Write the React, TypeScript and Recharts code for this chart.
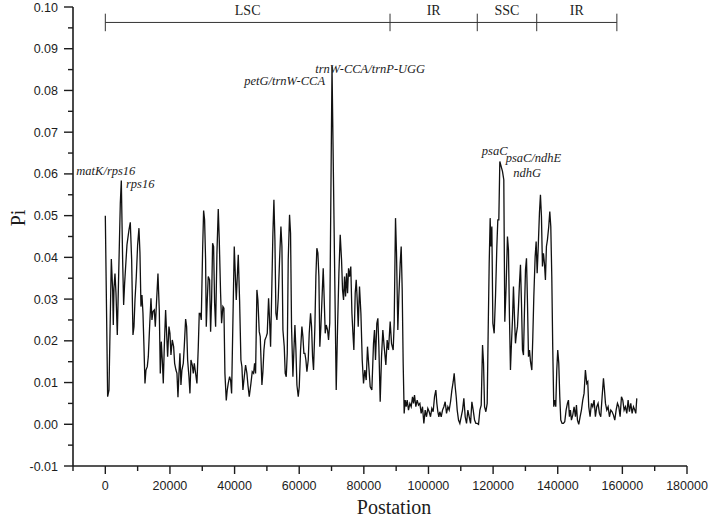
import React from 'react';
import { LineChart, Line, XAxis, YAxis, ReferenceLine, ReferenceDot, Label } from 'recharts';

// sliding-window positions (bp) and nucleotide diversity, split by genome region
const lscPos = [
  0, 720, 1130, 1860, 2270, 2470, 2680, 2990, 3300, 3710, 4120, 4640, 4950, 5360, 5670, 5980, 6290, 6700,
  7320, 7730, 8150, 8560, 8870, 9180, 9590, 10000, 10410, 10720, 11030, 11340, 11650, 11960, 12270, 12580,
  12990, 13300, 13710, 14130, 14430, 14740, 15160, 15470, 15880, 16290, 16700, 17010, 17320, 17630, 17940,
  18250, 18660, 18970, 19280, 19690, 20000, 20310, 20720, 21140, 21450, 21860, 22170, 22480, 22790, 23090,
  23400, 23710, 24130, 24430, 24850, 25160, 25470, 25880, 26190, 26500, 26910, 27220, 27530, 27940, 28350,
  28770, 29070, 29380, 29690, 30110, 30420, 30720, 31030, 31240, 31550, 31860, 32270, 32580, 32890, 33200,
  33510, 33820, 34130, 34540, 34950, 35260, 35670, 35980, 36390, 36700, 37010, 37430, 37730, 38040, 38460,
  38770, 39080, 39900, 40520, 41140, 41550, 41960, 42270, 42580, 43000, 43400, 43820, 44130, 44540, 45060,
  45470, 45880, 46190, 46500, 46910, 47220, 47630, 47940, 48460, 48770, 49080, 49390, 49800, 50110, 50520,
  50830, 51140, 51550, 51860, 52170, 52480, 52790, 53100, 53510, 53920, 54340, 54650, 54960, 55370, 55670,
  55990, 56300, 56600, 57010, 57320, 57630, 58050, 58360, 58670, 58980, 59290, 59700, 60010, 60420, 60830,
  61140, 61450, 61760, 62070, 62380, 62790, 63100, 63510, 63820, 64130, 64430, 64850, 65160, 65460, 65780,
  66090, 66380, 66710, 67120, 67430, 67740, 68050, 68360, 68770, 69080, 69450, 70150, 71450, 71870, 72280,
  72690, 73100, 73410, 73720, 74030, 74340, 74650, 74960, 75270, 75580, 75960, 76310, 76620, 76910, 77330,
  77640, 77950, 78260, 78660, 79090, 79500, 79900, 80310, 80730, 81130, 81970, 82480, 82990, 83300, 83610,
  84020, 84340, 84650, 85060, 85470, 85880, 86290, 86810, 87220, 87630,
];
const lscPi = [
  0.05, 0.0066, 0.0082, 0.0396, 0.0322, 0.0238, 0.0326, 0.0361, 0.0314, 0.0214, 0.0354, 0.053, 0.0584, 0.0394,
  0.0286, 0.0338, 0.0378, 0.043, 0.0466, 0.0484, 0.0394, 0.0214, 0.0234, 0.0298, 0.0354, 0.043, 0.047, 0.041,
  0.0282, 0.031, 0.0266, 0.0186, 0.0098, 0.013, 0.0138, 0.0162, 0.0234, 0.0302, 0.025, 0.027, 0.0274, 0.0234,
  0.0298, 0.0361, 0.0274, 0.0122, 0.0198, 0.0154, 0.0098, 0.0186, 0.0274, 0.0218, 0.0162, 0.0234, 0.0218,
  0.0166, 0.0202, 0.0186, 0.0146, 0.013, 0.0122, 0.0065, 0.0122, 0.017, 0.0094, 0.013, 0.0146, 0.0186, 0.0252,
  0.0234, 0.0154, 0.0114, 0.0074, 0.0154, 0.0142, 0.0122, 0.0146, 0.0122, 0.0098, 0.0186, 0.0266, 0.0266,
  0.025, 0.0418, 0.0512, 0.049, 0.0394, 0.0234, 0.0298, 0.0354, 0.0346, 0.0222, 0.0298, 0.0434, 0.0426, 0.029,
  0.0234, 0.041, 0.0516, 0.0442, 0.0314, 0.0242, 0.0282, 0.0278, 0.0122, 0.0057, 0.0082, 0.0098, 0.0114,
  0.0106, 0.0074, 0.0426, 0.0298, 0.0406, 0.0298, 0.0154, 0.0138, 0.0082, 0.0114, 0.0142, 0.0122, 0.0094,
  0.0066, 0.0098, 0.0126, 0.0122, 0.0146, 0.0122, 0.0322, 0.0298, 0.0222, 0.021, 0.0094, 0.0126, 0.0178,
  0.0202, 0.021, 0.0218, 0.0302, 0.025, 0.0186, 0.0338, 0.0458, 0.0538, 0.0442, 0.0266, 0.025, 0.0302, 0.0394,
  0.0474, 0.0426, 0.0226, 0.0186, 0.0122, 0.0114, 0.017, 0.0394, 0.0502, 0.0458, 0.0234, 0.0114, 0.0178,
  0.0238, 0.0178, 0.0094, 0.0066, 0.009, 0.0178, 0.0234, 0.021, 0.017, 0.017, 0.0154, 0.0126, 0.0154, 0.0218,
  0.0266, 0.0234, 0.0162, 0.013, 0.0234, 0.0354, 0.0422, 0.041, 0.0354, 0.0186, 0.0234, 0.0314, 0.0374,
  0.0298, 0.0218, 0.0238, 0.0226, 0.0202, 0.0242, 0.0858, 0.0082, 0.0234, 0.0362, 0.0454, 0.0394, 0.0322,
  0.0298, 0.0354, 0.0306, 0.0362, 0.0314, 0.0374, 0.0354, 0.0378, 0.0266, 0.0218, 0.0178, 0.0314, 0.0346,
  0.0298, 0.0234, 0.033, 0.0266, 0.0154, 0.0098, 0.013, 0.0106, 0.0186, 0.009, 0.0082, 0.0194, 0.0226, 0.0154,
  0.0242, 0.0254, 0.0186, 0.0054, 0.0162, 0.0226, 0.0186, 0.0142, 0.0202, 0.0178,
];

const irbPos = [
  88150, 88560, 89080, 89390, 89800, 90110, 90520, 90830, 91250, 91560, 91870, 92170, 92480, 92790, 93100,
  93410, 93820, 94240, 94650, 95060, 95370, 95680, 96090, 96500, 96920, 97330, 97740, 98150, 98570, 98980,
  99390, 99800, 100220, 100630, 101040, 101450, 101870, 102280, 102590, 102900, 103210, 103520, 103930,
  104350, 104760, 105170, 105590, 106000, 106410, 106830, 107240, 107650, 107960, 108270, 108580, 108890,
  109300, 109710, 110120, 110540, 110950, 111360, 111780, 112190, 112600, 113020, 113430, 113840, 114260,
  114670, 115080,
];
const irbPi = [
  0.0246, 0.0194, 0.0178, 0.0242, 0.0494, 0.041, 0.0226, 0.0306, 0.0386, 0.0426, 0.0322, 0.0146, 0.0026,
  0.0058, 0.0042, 0.0058, 0.0034, 0.005, 0.0042, 0.0066, 0.005, 0.007, 0.0042, 0.0058, 0.0046, 0.005, 0.0026,
  0.0042, 0.0002, 0.0034, 0.0018, 0.0038, 0.003, 0.0018, 0.0038, 0.003, 0.0066, 0.0082, 0.005, 0.003, 0.0018,
  0.003, 0.0018, 0.0034, 0.0042, 0.0054, 0.0026, 0.0042, 0.0034, 0.0054, 0.0082, 0.0102, 0.0122, 0.009,
  0.0066, 0.0034, 0.001, 0.0002, 0.0018, 0.0034, 0.0062, 0.0018, 0.0002, 0.0034, 0.0018, 0.0002, 0.0054,
  0.0034, 0.001, 0.0002, 0.0002,
];

const sscPos = [
  115490, 115910, 116320, 116730, 117040, 117350, 117760, 118170, 118480, 118790, 119090, 119300, 119610,
  119920, 120330, 120740, 121160, 121460, 121770, 122080, 122490, 122900, 123310, 123620, 124030, 124440,
  124750, 125060, 125370, 125680, 125990, 126300, 126610, 126920, 127230, 127540, 127850, 128160, 128470,
  128780, 129090, 129400, 129710, 130020, 130330, 130640, 130950, 131260, 131570, 131980, 132290, 132600,
  133010, 133320,
];
const sscPi = [
  0.0, 0.0034, 0.0046, 0.019, 0.0146, 0.0042, 0.003, 0.005, 0.0226, 0.0386, 0.0494, 0.0426, 0.0474, 0.0242,
  0.0218, 0.0306, 0.0426, 0.049, 0.049, 0.063, 0.0618, 0.0606, 0.0586, 0.0246, 0.033, 0.045, 0.0418, 0.0258,
  0.013, 0.0194, 0.025, 0.033, 0.0258, 0.0194, 0.0218, 0.0234, 0.0282, 0.0338, 0.0382, 0.029, 0.0178, 0.0166,
  0.0274, 0.037, 0.0398, 0.029, 0.0162, 0.0178, 0.015, 0.013, 0.021, 0.0306, 0.0402, 0.0438,
];

const iraPos = [
  133630, 133930, 134340, 134650, 134960, 135270, 135580, 135880, 136190, 136500, 136810, 137220, 137540,
  137850, 138160, 138450, 138770, 139080, 139390, 139700, 140000, 140320, 140630, 140940, 141350, 141760,
  142170, 142590, 143000, 143310, 143620, 143930, 144240, 144650, 145060, 145480, 145790, 146100, 146500,
  146920, 147330, 147740, 148150, 148560, 148980, 149290, 149600, 150010, 150430, 150840, 151250, 151660,
  152080, 152490, 152900, 153310, 153730, 154150, 154460, 154770, 155180, 155590, 156000, 156420, 156830,
  157240, 157650, 158070, 158480, 158890, 159300, 159720, 160130, 160540, 160950, 161370, 161780, 162190,
  162600, 163020, 163430, 163840, 164150, 164460,
];
const iraPi = [
  0.0362, 0.0418, 0.0506, 0.055, 0.0498, 0.0378, 0.041, 0.0386, 0.0346, 0.0426, 0.0442, 0.0474, 0.051, 0.0474,
  0.0354, 0.0186, 0.0042, 0.0058, 0.0042, 0.013, 0.0178, 0.0146, 0.0066, 0.001, 0.0002, 0.0002, 0.0006, 0.0034,
  0.005, 0.0058, 0.0018, 0.0034, 0.001, 0.0022, 0.0042, 0.0018, 0.0046, 0.001, 0.0, 0.0018, 0.0034, 0.0058,
  0.0074, 0.013, 0.0098, 0.0102, 0.0042, 0.0018, 0.005, 0.0042, 0.0058, 0.0018, 0.0042, 0.005, 0.0026, 0.0018,
  0.0066, 0.011, 0.0082, 0.005, 0.0034, 0.0042, 0.0018, 0.0034, 0.003, 0.0022, 0.001, 0.0034, 0.005, 0.0042,
  0.0018, 0.0066, 0.0058, 0.0034, 0.0042, 0.0026, 0.0058, 0.003, 0.005, 0.0026, 0.0042, 0.0034, 0.0026, 0.0062,
];

const xTicks = [-10000, 0, 10000, 20000, 30000, 40000, 50000, 60000, 70000, 80000, 90000, 100000, 110000,
  120000, 130000, 140000, 150000, 160000, 170000, 180000];
const yTicks = [-0.01, -0.005, 0, 0.005, 0.01, 0.015, 0.02, 0.025, 0.03, 0.035, 0.04, 0.045, 0.05, 0.055,
  0.06, 0.065, 0.07, 0.075, 0.08, 0.085, 0.09, 0.095, 0.1];

const regionBounds = [0, 88100, 115100, 133500, 158300];
const regionNames = ['LSC', 'IR', 'SSC', 'IR'];
const regionBarPi = 0.0963;

const noteText = ['matK/rps16', 'rps16', 'petG/trnW-CCA', 'trnW-CCA/trnP-UGG', 'psaC', 'psaC/ndhE', 'ndhG'];
const notePos = [-8970, 6400, 43000, 64950, 116520, 123880, 126200];
const notePi = [0.0597, 0.0566, 0.0814, 0.0842, 0.0646, 0.0628, 0.0592];

const allPos = [...lscPos, ...irbPos, ...sscPos, ...iraPos];
const allPi = [...lscPi, ...irbPi, ...sscPi, ...iraPi];
const data = allPos.map((p, i) => ({ pos: p, pi: allPi[i] }));

const ink = '#1c1c1c';
const sans = '"Liberation Sans", Arial, sans-serif';
const serif = '"Liberation Serif", "Times New Roman", serif';

function XTick(props: any) {
  const { x, y, payload } = props;
  const v = payload.value;
  const major = v % 20000 === 0;
  return (
    <g>
      <line x1={x} y1={y} x2={x} y2={y + (major ? 8 : 5)} stroke={ink} strokeWidth={1.4} />
      {major && (
        <text x={x} y={y + 24} textAnchor="middle" fontFamily={sans} fontSize={12.5} fill={ink}>
          {v}
        </text>
      )}
    </g>
  );
}

function YTick(props: any) {
  const { x, y, payload } = props;
  const v = payload.value;
  const major = Math.round(v * 1000) % 10 === 0;
  return (
    <g>
      <line x1={x - (major ? 9 : 5)} y1={y} x2={x} y2={y} stroke={ink} strokeWidth={1.4} />
      {major && (
        <text x={x - 15} y={y + 4.5} textAnchor="end" fontFamily={sans} fontSize={12.5} fill={ink}>
          {v.toFixed(2)}
        </text>
      )}
    </g>
  );
}

export default function App() {
  return (
    <div style={{ position: 'absolute', left: 0, top: 0, width: 709, height: 520, background: '#fff' }}>
      <LineChart width={709} height={520} data={data} margin={{ top: 7, right: 22, bottom: 0, left: 0 }}>
        <XAxis
          dataKey="pos"
          type="number"
          domain={[-10000, 180000]}
          ticks={xTicks}
          interval={0}
          tickSize={0}
          tickMargin={0}
          tickLine={false}
          tick={<XTick />}
          height={54}
          axisLine={{ stroke: ink, strokeWidth: 1.6 }}
        >
          <Label
            content={() => (
              <text x={394} y={514} textAnchor="middle" fontFamily={serif} fontSize={20} fill={ink}>
                Postation
              </text>
            )}
          />
        </XAxis>
        <YAxis
          type="number"
          domain={[-0.01, 0.1]}
          ticks={yTicks}
          interval={0}
          tickSize={0}
          tickMargin={0}
          tickLine={false}
          tick={<YTick />}
          width={73}
          axisLine={{ stroke: ink, strokeWidth: 1.6 }}
        >
          <Label
            content={() => (
              <text x={25} y={218} transform="rotate(-90 25 218)" textAnchor="middle" fontFamily={serif} fontSize={20} fill={ink}>
                Pi
              </text>
            )}
          />
        </YAxis>

        <ReferenceLine
          segment={[{ x: regionBounds[0], y: regionBarPi }, { x: regionBounds[regionBounds.length - 1], y: regionBarPi }]}
          stroke="#333"
          strokeWidth={1}
          ifOverflow="visible"
        />
        {regionBounds.map((b, i) => (
          <ReferenceLine
            key={'cap' + i}
            segment={[{ x: b, y: regionBarPi - 0.0021 }, { x: b, y: regionBarPi + 0.0021 }]}
            stroke="#333"
            strokeWidth={1}
            ifOverflow="visible"
          />
        ))}
        {regionNames.map((name, i) => (
          <ReferenceDot
            key={'rn' + i}
            x={(regionBounds[i] + regionBounds[i + 1]) / 2}
            y={0.098}
            r={0}
            ifOverflow="visible"
            shape={(p: any) => (
              <text x={p.cx} y={p.cy} textAnchor="middle" fontFamily={serif} fontSize={14} fill={ink}>
                {name}
              </text>
            )}
          />
        ))}

        <Line
          type="linear"
          dataKey="pi"
          stroke="#111"
          strokeWidth={1.3}
          dot={false}
          activeDot={false}
          isAnimationActive={false}
        />

        {noteText.map((t, i) => (
          <ReferenceDot
            key={'note' + i}
            x={notePos[i]}
            y={notePi[i]}
            r={0}
            ifOverflow="visible"
            shape={(p: any) => (
              <text x={p.cx} y={p.cy} fontFamily={serif} fontStyle="italic" fontSize={12.5} fill={ink}>
                {t}
              </text>
            )}
          />
        ))}
      </LineChart>
    </div>
  );
}
